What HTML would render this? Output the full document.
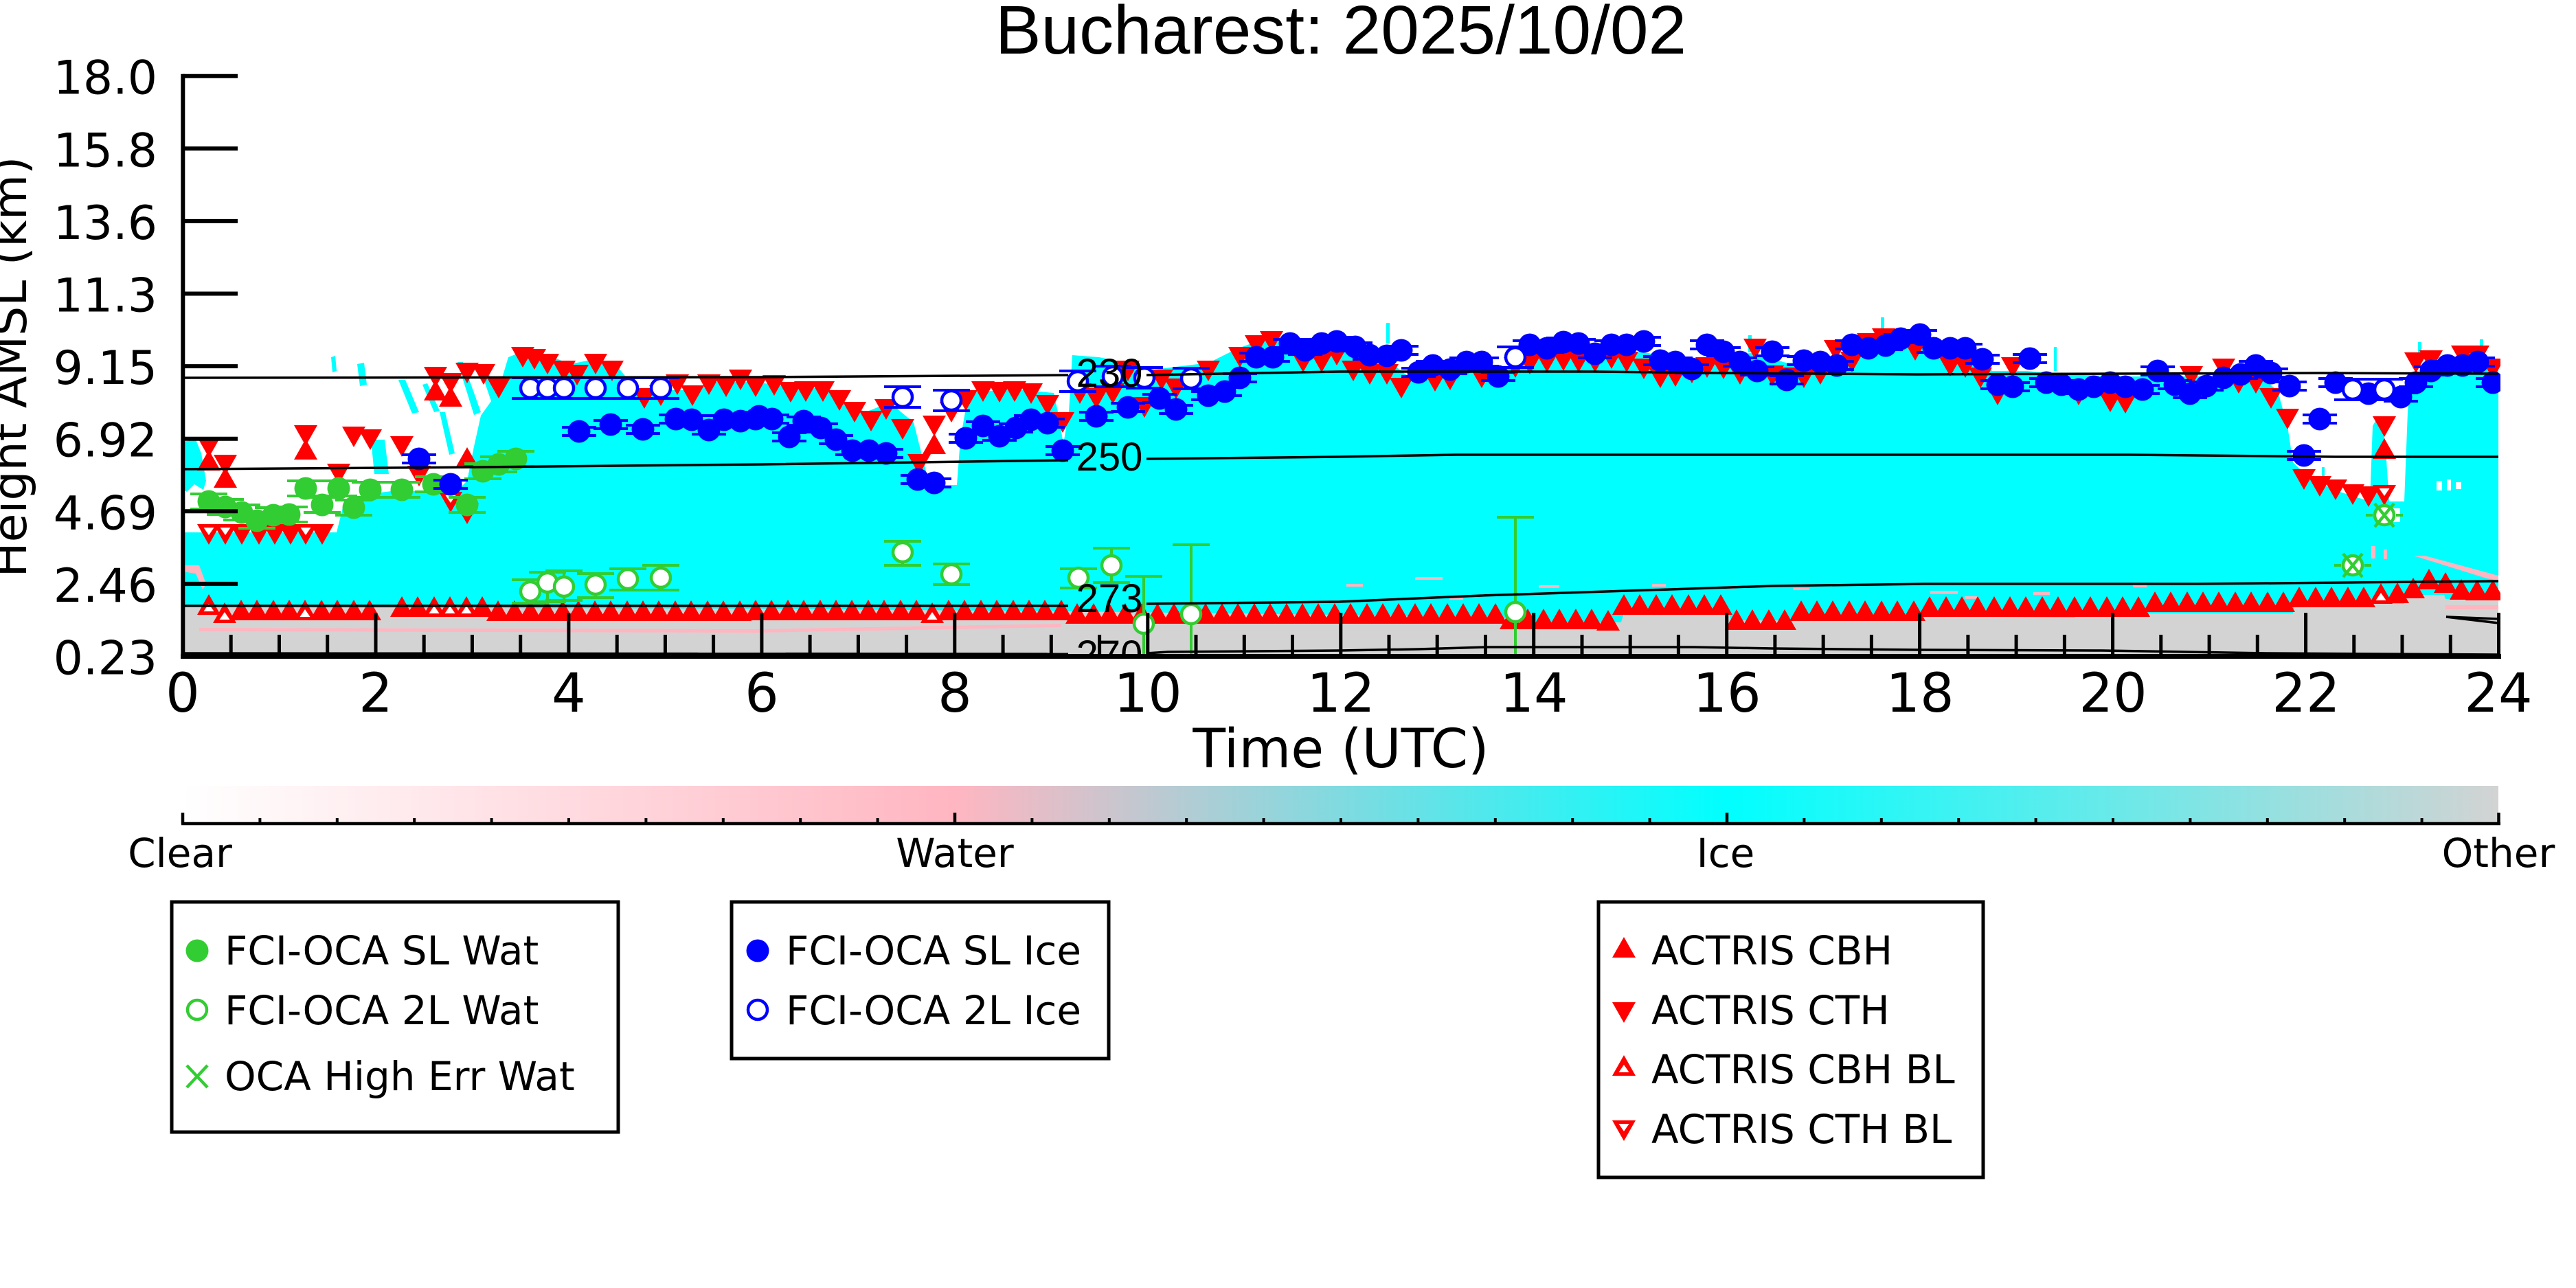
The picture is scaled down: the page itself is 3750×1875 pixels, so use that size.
<!DOCTYPE html>
<html><head><meta charset="utf-8"><style>
html,body{margin:0;padding:0;background:#fff;overflow:hidden}
svg{display:block}
.dj{font-family:"DejaVu Sans","Liberation Sans",sans-serif}
.lb{font-family:"Liberation Sans",Arial,sans-serif}
</style></head><body>
<svg xmlns="http://www.w3.org/2000/svg" width="3750" height="1875" viewBox="0 0 3750 1875">
<defs>
<clipPath id="pc"><rect x="266" y="100" width="3374" height="855"/></clipPath>
<linearGradient id="cb" x1="266" y1="0" x2="3637" y2="0" gradientUnits="userSpaceOnUse">
<stop offset="0" stop-color="#ffffff"/><stop offset="0.3333" stop-color="#ffb6c1"/><stop offset="0.6667" stop-color="#00ffff"/><stop offset="1" stop-color="#d3d3d3"/>
</linearGradient>
<polygon id="tu" points="0,-15 17,15 -17,15" fill="#f00"/>
<polygon id="td" points="0,15 17,-15 -17,-15" fill="#f00"/>
<g id="tuo"><polygon points="0,-15 17,15 -17,15" fill="#f00"/><polygon points="0,-1 7.5,10 -7.5,10" fill="#fff"/></g>
<g id="tdo"><polygon points="0,15 17,-15 -17,-15" fill="#f00"/><polygon points="0,1 7.5,-10 -7.5,-10" fill="#fff"/></g>
<g id="bf"><path d="M-25,-6h50M-25,6h50" stroke="#00f" stroke-width="4"/><circle r="16.5" fill="#00f"/></g>
<g id="gf"><path d="M-27,-11h54M-27,11h54M0,-11V11" stroke="#32cd32" stroke-width="4"/><circle r="16.5" fill="#32cd32"/></g>
<path id="boc" d="M-27,-15h54M-27,15h54M0,-15V15" stroke="#00f" stroke-width="4"/>
<circle id="bo" r="14" fill="#fff" stroke="#00f" stroke-width="4.5"/>
<circle id="go" r="14" fill="#fff" stroke="#32cd32" stroke-width="4.5"/>
<g id="gx"><path d="M-27,0h10M17,0h10" stroke="#32cd32" stroke-width="4"/><circle r="14" fill="#fff" stroke="#32cd32" stroke-width="4.5"/><path d="M-14,-17L14,17M14,-17L-14,17" stroke="#32cd32" stroke-width="4.5"/></g>
</defs>

<rect width="3750" height="1875" fill="#fff"/>

<!-- Title -->
<text class="lb" x="1952" y="78" font-size="100" text-anchor="middle" fill="#000">Bucharest: 2025/10/02</text>

<g clip-path="url(#pc)">
<!-- cyan main -->
<path fill="#00ffff" d="M266,775 L490,775 L500,735 L530,720 L570,715 L610,715 L650,715 L668,712 L680,700 L690,650 L700,605 L725,570 L740,520 L760,512 L800,518 L830,530 L870,522 L900,535 L930,572 L960,568 L1000,568 L1040,556 L1100,556 L1140,562 L1200,566 L1230,585 L1260,600 L1290,588 L1306,595 L1330,615 L1349,690 L1360,706 L1393,706 L1398,640 L1405,600 L1414,572 L1470,566 L1534,572 L1540,600 L1548,646 L1556,600 L1561,517 L1600,520 L1640,528 L1680,538 L1720,533 L1760,528 L1800,508 L1830,497 L1870,495 L1950,488 L2000,508 L2040,540 L2060,556 L2085,545 L2150,540 L2200,532 L2250,515 L2300,508 L2350,510 L2400,514 L2450,528 L2500,518 L2550,514 L2600,528 L2650,528 L2700,508 L2750,497 L2790,488 L2830,503 L2880,520 L2900,540 L2950,540 L3000,545 L3100,548 L3200,548 L3300,555 L3316,570 L3330,620 L3338,673 L3360,695 L3400,714 L3450,730 L3454,620 L3462,606 L3472,640 L3478,730 L3500,730 L3505,600 L3510,545 L3550,535 L3600,528 L3637,530 L3637,960 L266,960 Z"/>
<path fill="#00ffff" d="M266,643 L285,640 L293,660 L300,700 L296,713 L283,705 L272,716 L266,712 Z"/>
<g fill="#00ffff">
<path d="M482,520 L488,518 L490,540 L484,542 Z"/>
<path d="M520,530 L530,528 L534,560 L524,562 Z"/>
<path d="M580,553 L590,553 L610,600 L600,602 Z"/>
<path d="M615,560 L622,558 L640,598 L632,600 Z"/>
<path d="M640,600 L648,600 L662,660 L654,662 Z"/>
<path d="M666,527 L674,527 L700,600 L690,604 Z"/>
<path d="M700,540 L710,540 L742,626 L730,628 Z"/>
<path d="M540,640 L560,640 L566,690 L545,690 Z"/>
<rect x="2018" y="470" width="5" height="30"/>
<rect x="2545" y="488" width="5" height="25"/>
<rect x="2738" y="462" width="5" height="30"/>
<rect x="2990" y="505" width="4" height="35"/>
<rect x="3520" y="498" width="5" height="30"/>
<rect x="3610" y="494" width="5" height="30"/>
<rect x="3380" y="680" width="4" height="40"/>
</g>
<!-- white speckles -->
<g fill="#fff">
<rect x="3547" y="700" width="8" height="14"/>
<rect x="3562" y="698" width="6" height="16"/>
<rect x="3575" y="702" width="8" height="10"/>
<rect x="3484" y="740" width="10" height="20"/>
</g>
<!-- pink -->
<g fill="#ffb6c1">
<path d="M266,823 L290,823 L300,850 L295,858 L285,835 L266,832 Z"/>
<rect x="1960" y="850" width="24" height="4"/>
<rect x="2060" y="840" width="40" height="4"/>
<rect x="2110" y="870" width="20" height="3"/>
<rect x="2240" y="852" width="30" height="4"/>
<rect x="2405" y="850" width="20" height="4"/>
<rect x="2505" y="854" width="20" height="3"/>
<rect x="2610" y="856" width="24" height="3"/>
<rect x="2810" y="860" width="40" height="5"/>
<rect x="2860" y="868" width="20" height="4"/>
<rect x="2960" y="862" width="24" height="4"/>
<rect x="3105" y="852" width="20" height="3"/>
<rect x="3452" y="795" width="6" height="18"/>
<rect x="3470" y="800" width="5" height="14"/>
<path d="M3514,809 L3530,809 L3637,838 L3637,845 L3620,842 Z"/>
</g>
<!-- gray -->
<path fill="#d3d3d3" d="M266,884 L1100,886 L1560,890 L1940,895 L2200,900 L2205,906 L2360,906 L2365,888 L2515,888 L2520,903 L2618,903 L2622,895 L2790,897 L3020,899 L3025,893 L3338,893 L3340,879 L3500,879 L3503,866 L3558,866 L3560,872 L3637,872 L3637,960 L266,960 Z"/>
<path fill="#ffb6c1" d="M290,914 L1100,916 L1545,908 L1545,913 L1100,921 L290,919 Z"/>
<rect x="3560" y="881" width="77" height="6" fill="#ffb6c1"/>

<!-- ACTRIS CBH -->
<use href="#tuo" x="304" y="880"/><use href="#tuo" x="327" y="892"/><use href="#tu" x="351" y="888"/><use href="#tu" x="374" y="888"/><use href="#tu" x="398" y="888"/><use href="#tu" x="421" y="888"/><use href="#tuo" x="444" y="888"/><use href="#tu" x="468" y="888"/><use href="#tu" x="491" y="888"/><use href="#tu" x="515" y="888"/><use href="#tu" x="538" y="888"/>
<use href="#tu" x="585" y="883"/><use href="#tu" x="608" y="883"/><use href="#tuo" x="632" y="883"/><use href="#tuo" x="655" y="883"/><use href="#tuo" x="679" y="883"/><use href="#tu" x="702" y="883"/>
<use href="#tu" x="725" y="889"/><use href="#tu" x="749" y="889"/><use href="#tu" x="772" y="889"/><use href="#tu" x="796" y="889"/><use href="#tu" x="819" y="889"/><use href="#tu" x="842" y="889"/><use href="#tu" x="866" y="889"/><use href="#tu" x="889" y="889"/><use href="#tu" x="913" y="889"/><use href="#tu" x="936" y="889"/><use href="#tu" x="959" y="889"/><use href="#tu" x="983" y="889"/><use href="#tu" x="1006" y="889"/><use href="#tu" x="1030" y="889"/><use href="#tu" x="1053" y="889"/><use href="#tu" x="1077" y="889"/>
<use href="#tu" x="1100" y="888"/><use href="#tu" x="1123" y="888"/><use href="#tu" x="1147" y="888"/><use href="#tu" x="1170" y="888"/><use href="#tu" x="1194" y="888"/><use href="#tu" x="1217" y="888"/><use href="#tu" x="1240" y="888"/><use href="#tu" x="1264" y="888"/><use href="#tu" x="1287" y="888"/><use href="#tu" x="1311" y="888"/><use href="#tu" x="1334" y="888"/><use href="#tuo" x="1357" y="892"/><use href="#tu" x="1381" y="888"/><use href="#tu" x="1404" y="888"/><use href="#tu" x="1428" y="888"/><use href="#tu" x="1451" y="888"/><use href="#tu" x="1475" y="888"/><use href="#tu" x="1498" y="888"/><use href="#tu" x="1521" y="888"/><use href="#tu" x="1545" y="888"/>
<use href="#tu" x="1568" y="893"/><use href="#tu" x="1592" y="893"/><use href="#tu" x="1615" y="893"/><use href="#tu" x="1638" y="893"/><use href="#tu" x="1662" y="893"/><use href="#tu" x="1685" y="893"/><use href="#tu" x="1709" y="893"/><use href="#tu" x="1732" y="893"/><use href="#tu" x="1755" y="893"/><use href="#tu" x="1779" y="893"/><use href="#tu" x="1802" y="893"/><use href="#tu" x="1826" y="893"/><use href="#tu" x="1849" y="893"/><use href="#tu" x="1873" y="893"/><use href="#tu" x="1896" y="893"/><use href="#tu" x="1919" y="893"/><use href="#tu" x="1943" y="893"/><use href="#tu" x="1966" y="893"/><use href="#tu" x="1990" y="893"/><use href="#tu" x="2013" y="893"/><use href="#tu" x="2036" y="893"/><use href="#tu" x="2060" y="893"/><use href="#tu" x="2083" y="893"/><use href="#tu" x="2107" y="893"/><use href="#tu" x="2130" y="893"/><use href="#tu" x="2153" y="893"/><use href="#tu" x="2177" y="893"/>
<use href="#tu" x="2200" y="901"/><use href="#tu" x="2224" y="901"/><use href="#tu" x="2247" y="901"/><use href="#tu" x="2270" y="901"/><use href="#tu" x="2294" y="901"/><use href="#tu" x="2317" y="901"/><use href="#tu" x="2341" y="903"/>
<use href="#tu" x="2364" y="880"/><use href="#tu" x="2387" y="880"/><use href="#tu" x="2411" y="880"/><use href="#tu" x="2434" y="880"/><use href="#tu" x="2458" y="880"/><use href="#tu" x="2481" y="880"/><use href="#tu" x="2505" y="880"/>
<use href="#tu" x="2528" y="902"/><use href="#tu" x="2551" y="902"/><use href="#tu" x="2575" y="902"/><use href="#tu" x="2598" y="902"/>
<use href="#tu" x="2622" y="889"/><use href="#tu" x="2645" y="889"/><use href="#tu" x="2668" y="889"/><use href="#tu" x="2692" y="889"/><use href="#tu" x="2715" y="889"/><use href="#tu" x="2739" y="889"/><use href="#tu" x="2762" y="889"/><use href="#tu" x="2786" y="889"/>
<use href="#tu" x="2809" y="883"/><use href="#tu" x="2833" y="883"/><use href="#tu" x="2856" y="883"/><use href="#tu" x="2879" y="883"/><use href="#tu" x="2903" y="883"/><use href="#tu" x="2926" y="883"/><use href="#tu" x="2949" y="883"/><use href="#tu" x="2973" y="883"/><use href="#tu" x="2996" y="883"/><use href="#tu" x="3020" y="883"/><use href="#tu" x="3043" y="883"/><use href="#tu" x="3067" y="883"/><use href="#tu" x="3090" y="883"/><use href="#tu" x="3113" y="883"/>
<use href="#tu" x="3137" y="876"/><use href="#tu" x="3160" y="876"/><use href="#tu" x="3184" y="876"/><use href="#tu" x="3207" y="876"/><use href="#tu" x="3230" y="876"/><use href="#tu" x="3254" y="876"/><use href="#tu" x="3277" y="876"/><use href="#tu" x="3301" y="876"/><use href="#tu" x="3324" y="876"/>
<use href="#tu" x="3347" y="869"/><use href="#tu" x="3371" y="869"/><use href="#tu" x="3394" y="869"/><use href="#tu" x="3418" y="869"/><use href="#tu" x="3441" y="869"/><use href="#tuo" x="3466" y="864"/><use href="#tu" x="3490" y="863"/><use href="#tu" x="3513" y="856"/><use href="#tu" x="3536" y="843"/><use href="#tu" x="3560" y="848"/><use href="#tu" x="3583" y="858"/><use href="#tu" x="3606" y="859"/><use href="#tu" x="3629" y="859"/>
<!-- elevated CBH -->
<use href="#tu" x="304" y="670"/><use href="#tu" x="328" y="695"/><use href="#tu" x="445" y="654"/><use href="#tu" x="634" y="568"/><use href="#tu" x="656" y="577"/><use href="#tu" x="680" y="666"/><use href="#tu" x="1360" y="646"/><use href="#tu" x="3471" y="653"/>

<!-- ACTRIS CTH -->
<use href="#td" x="304" y="651"/><use href="#td" x="328" y="677"/><use href="#td" x="445" y="634"/><use href="#td" x="515" y="636"/><use href="#td" x="539" y="640"/><use href="#td" x="585" y="650"/><use href="#td" x="493" y="690"/><use href="#td" x="610" y="693"/><use href="#td" x="680" y="748"/>
<use href="#td" x="634" y="549"/><use href="#td" x="656" y="558"/><use href="#td" x="680" y="543"/><use href="#td" x="704" y="545"/><use href="#td" x="726" y="565"/>
<use href="#td" x="761" y="520"/><use href="#td" x="778" y="523"/><use href="#td" x="797" y="530"/><use href="#td" x="821" y="540"/><use href="#td" x="840" y="546"/><use href="#td" x="867" y="530"/><use href="#td" x="891" y="540"/><use href="#td" x="938" y="580"/><use href="#td" x="962" y="576"/><use href="#td" x="986" y="560"/><use href="#td" x="1008" y="576"/><use href="#td" x="1032" y="560"/><use href="#td" x="1057" y="563"/><use href="#td" x="1078" y="553"/><use href="#td" x="1100" y="563"/>
<use href="#td" x="352" y="778"/><use href="#td" x="377" y="778"/><use href="#td" x="400" y="778"/><use href="#td" x="423" y="778"/><use href="#td" x="469" y="778"/>
<use href="#tdo" x="304" y="778"/><use href="#tdo" x="328" y="778"/><use href="#tdo" x="445" y="778"/><use href="#tdo" x="656" y="731"/>
<use href="#td" x="1127" y="561"/><use href="#td" x="1151" y="571"/><use href="#td" x="1173" y="570"/><use href="#td" x="1198" y="570"/><use href="#td" x="1222" y="583"/><use href="#td" x="1244" y="600"/><use href="#td" x="1268" y="613"/><use href="#td" x="1290" y="596"/><use href="#td" x="1314" y="625"/><use href="#td" x="1338" y="676"/><use href="#td" x="1360" y="620"/><use href="#td" x="1385" y="600"/><use href="#td" x="1406" y="583"/><use href="#td" x="1431" y="570"/><use href="#td" x="1455" y="571"/><use href="#td" x="1477" y="570"/><use href="#td" x="1501" y="573"/><use href="#td" x="1525" y="590"/><use href="#td" x="1547" y="615"/><use href="#td" x="1572" y="573"/><use href="#td" x="1596" y="580"/><use href="#td" x="1620" y="573"/><use href="#td" x="1642" y="540"/><use href="#td" x="1666" y="593"/><use href="#td" x="1691" y="553"/><use href="#td" x="1712" y="566"/><use href="#td" x="1759" y="540"/><use href="#td" x="1805" y="520"/><use href="#td" x="1829" y="503"/><use href="#td" x="1851" y="497"/><use href="#td" x="1897" y="527"/><use href="#td" x="1924" y="527"/><use href="#td" x="1946" y="517"/>
<use href="#td" x="1970" y="540"/><use href="#td" x="1994" y="545"/><use href="#td" x="2019" y="545"/><use href="#td" x="2040" y="565"/><use href="#td" x="2089" y="555"/><use href="#td" x="2111" y="553"/><use href="#td" x="2157" y="550"/><use href="#td" x="2206" y="535"/><use href="#td" x="2227" y="530"/><use href="#td" x="2252" y="527"/><use href="#td" x="2276" y="525"/><use href="#td" x="2298" y="527"/><use href="#td" x="2322" y="527"/><use href="#td" x="2346" y="522"/><use href="#td" x="2368" y="527"/><use href="#td" x="2393" y="537"/><use href="#td" x="2417" y="550"/><use href="#td" x="2439" y="548"/><use href="#td" x="2463" y="543"/><use href="#td" x="2485" y="535"/><use href="#td" x="2509" y="537"/><use href="#td" x="2533" y="545"/><use href="#td" x="2555" y="508"/><use href="#td" x="2580" y="547"/><use href="#td" x="2604" y="550"/><use href="#td" x="2626" y="550"/><use href="#td" x="2650" y="545"/><use href="#td" x="2672" y="510"/><use href="#td" x="2696" y="527"/><use href="#td" x="2720" y="500"/><use href="#td" x="2742" y="493"/><use href="#td" x="2767" y="497"/><use href="#td" x="2788" y="510"/>
<use href="#td" x="2839" y="533"/><use href="#td" x="2861" y="535"/><use href="#td" x="2883" y="550"/><use href="#td" x="2908" y="575"/><use href="#td" x="2930" y="535"/><use href="#td" x="3026" y="575"/><use href="#td" x="3072" y="585"/><use href="#td" x="3094" y="587"/><use href="#td" x="3190" y="548"/><use href="#td" x="3237" y="537"/><use href="#td" x="3259" y="558"/><use href="#td" x="3284" y="558"/><use href="#td" x="3306" y="580"/><use href="#td" x="3330" y="610"/><use href="#td" x="3354" y="698"/><use href="#td" x="3377" y="708"/><use href="#td" x="3400" y="713"/><use href="#td" x="3425" y="720"/><use href="#td" x="3448" y="723"/><use href="#td" x="3471" y="621"/><use href="#td" x="3517" y="528"/><use href="#td" x="3539" y="525"/><use href="#td" x="3585" y="518"/><use href="#td" x="3607" y="518"/><use href="#td" x="3629" y="537"/>
<use href="#tdo" x="3471" y="721"/>

<!-- FCI-OCA SL Wat -->
<use href="#gf" x="304" y="730"/><use href="#gf" x="328" y="738"/><use href="#gf" x="352" y="746"/><use href="#gf" x="374" y="758"/><use href="#gf" x="398" y="750"/><use href="#gf" x="421" y="749"/><use href="#gf" x="445" y="711"/><use href="#gf" x="469" y="735"/><use href="#gf" x="493" y="711"/><use href="#gf" x="515" y="739"/><use href="#gf" x="539" y="713"/><use href="#gf" x="585" y="713"/><use href="#gf" x="631" y="705"/><use href="#gf" x="680" y="735"/><use href="#gf" x="703" y="686"/><use href="#gf" x="726" y="676"/><use href="#gf" x="751" y="668"/>

<!-- FCI-OCA 2L Wat error bars -->
<path fill="none" stroke="#32cd32" stroke-width="4" d="M745,844h54M745,878h54M772,844V878 M770,833h54M770,876h54M797,833V876 M794,831h54M794,874h54M821,831V874 M840,835h54M840,870h54M867,835V870 M887,828h54M887,859h54M914,828V859 M935,823h54M935,859h54M962,823V859 M1287,788h54M1287,823h54M1314,788V823 M1358,821h54M1358,851h54M1385,821V851 M1543,828h54M1543,856h54M1570,828V856 M1591,798h54M1591,848h54M1618,798V848 M1638,839h54M1665,839V965 M1707,793h54M1734,793V965 M2179,753h54M2206,753V965"/>
<use href="#go" x="772" y="861"/><use href="#go" x="797" y="848"/><use href="#go" x="821" y="854"/><use href="#go" x="867" y="851"/><use href="#go" x="914" y="843"/><use href="#go" x="962" y="841"/><use href="#go" x="1314" y="804"/><use href="#go" x="1385" y="836"/><use href="#go" x="1570" y="841"/><use href="#go" x="1618" y="823"/><use href="#go" x="1665" y="908"/><use href="#go" x="1734" y="894"/><use href="#go" x="2206" y="891"/>

<!-- FCI-OCA SL Ice -->
<use href="#bf" x="610" y="668"/><use href="#bf" x="656" y="705"/><use href="#bf" x="843" y="628"/><use href="#bf" x="889" y="618"/><use href="#bf" x="936" y="625"/><use href="#bf" x="984" y="610"/><use href="#bf" x="1007" y="611"/><use href="#bf" x="1032" y="626"/><use href="#bf" x="1054" y="611"/><use href="#bf" x="1078" y="613"/><use href="#bf" x="1100" y="610"/>
<use href="#bf" x="1105" y="606"/><use href="#bf" x="1124" y="610"/><use href="#bf" x="1149" y="636"/><use href="#bf" x="1170" y="613"/><use href="#bf" x="1195" y="623"/><use href="#bf" x="1217" y="640"/><use href="#bf" x="1241" y="656"/><use href="#bf" x="1265" y="656"/><use href="#bf" x="1290" y="660"/><use href="#bf" x="1336" y="698"/><use href="#bf" x="1360" y="703"/><use href="#bf" x="1406" y="638"/><use href="#bf" x="1431" y="620"/><use href="#bf" x="1455" y="635"/><use href="#bf" x="1479" y="623"/><use href="#bf" x="1501" y="611"/><use href="#bf" x="1525" y="616"/><use href="#bf" x="1547" y="656"/><use href="#bf" x="1596" y="606"/><use href="#bf" x="1642" y="593"/><use href="#bf" x="1688" y="580"/><use href="#bf" x="1712" y="596"/><use href="#bf" x="1759" y="576"/><use href="#bf" x="1783" y="570"/><use href="#bf" x="1805" y="550"/><use href="#bf" x="1829" y="520"/><use href="#bf" x="1853" y="520"/><use href="#bf" x="1878" y="500"/><use href="#bf" x="1900" y="510"/><use href="#bf" x="1924" y="500"/><use href="#bf" x="1946" y="497"/>
<use href="#bf" x="1973" y="505"/><use href="#bf" x="1994" y="517"/><use href="#bf" x="2019" y="518"/><use href="#bf" x="2040" y="510"/><use href="#bf" x="2065" y="542"/><use href="#bf" x="2086" y="532"/><use href="#bf" x="2111" y="538"/><use href="#bf" x="2135" y="527"/><use href="#bf" x="2157" y="527"/><use href="#bf" x="2181" y="548"/><use href="#bf" x="2227" y="502"/><use href="#bf" x="2252" y="507"/><use href="#bf" x="2276" y="498"/><use href="#bf" x="2298" y="500"/><use href="#bf" x="2322" y="515"/><use href="#bf" x="2346" y="502"/><use href="#bf" x="2368" y="502"/><use href="#bf" x="2393" y="497"/><use href="#bf" x="2417" y="525"/><use href="#bf" x="2439" y="527"/><use href="#bf" x="2463" y="537"/><use href="#bf" x="2485" y="502"/><use href="#bf" x="2509" y="512"/><use href="#bf" x="2533" y="527"/><use href="#bf" x="2558" y="540"/><use href="#bf" x="2580" y="512"/><use href="#bf" x="2601" y="553"/><use href="#bf" x="2626" y="525"/><use href="#bf" x="2650" y="527"/><use href="#bf" x="2674" y="532"/><use href="#bf" x="2696" y="502"/><use href="#bf" x="2720" y="507"/><use href="#bf" x="2745" y="503"/><use href="#bf" x="2767" y="493"/>
<use href="#bf" x="2795" y="487"/><use href="#bf" x="2815" y="507"/><use href="#bf" x="2839" y="507"/><use href="#bf" x="2861" y="507"/><use href="#bf" x="2886" y="523"/><use href="#bf" x="2908" y="560"/><use href="#bf" x="2930" y="563"/><use href="#bf" x="2955" y="522"/><use href="#bf" x="2979" y="557"/><use href="#bf" x="3001" y="560"/><use href="#bf" x="3026" y="567"/><use href="#bf" x="3048" y="563"/><use href="#bf" x="3072" y="557"/><use href="#bf" x="3094" y="563"/><use href="#bf" x="3119" y="567"/><use href="#bf" x="3141" y="540"/><use href="#bf" x="3166" y="560"/><use href="#bf" x="3188" y="573"/><use href="#bf" x="3212" y="562"/><use href="#bf" x="3237" y="550"/><use href="#bf" x="3262" y="545"/><use href="#bf" x="3284" y="532"/><use href="#bf" x="3306" y="543"/><use href="#bf" x="3333" y="562"/><use href="#bf" x="3354" y="663"/><use href="#bf" x="3377" y="610"/><use href="#bf" x="3400" y="557"/><use href="#bf" x="3448" y="573"/><use href="#bf" x="3495" y="578"/><use href="#bf" x="3517" y="557"/><use href="#bf" x="3539" y="540"/><use href="#bf" x="3563" y="532"/><use href="#bf" x="3585" y="532"/><use href="#bf" x="3607" y="527"/><use href="#bf" x="3629" y="557"/>

<!-- FCI-OCA 2L Ice -->
<use href="#boc" x="772" y="565"/><use href="#boc" x="797" y="565"/><use href="#boc" x="821" y="565"/><use href="#boc" x="867" y="565"/><use href="#boc" x="914" y="565"/><use href="#boc" x="962" y="565"/><use href="#boc" x="1314" y="578"/><use href="#boc" x="1385" y="583"/><use href="#boc" x="1569" y="555"/><use href="#boc" x="1620" y="548"/><use href="#boc" x="1666" y="550"/><use href="#boc" x="1734" y="551"/><use href="#boc" x="2206" y="520"/><use href="#boc" x="3425" y="567"/><use href="#boc" x="3471" y="567"/>
<use href="#bo" x="772" y="565"/><use href="#bo" x="797" y="565"/><use href="#bo" x="821" y="565"/><use href="#bo" x="867" y="565"/><use href="#bo" x="914" y="565"/><use href="#bo" x="962" y="565"/><use href="#bo" x="1314" y="578"/><use href="#bo" x="1385" y="583"/><use href="#bo" x="1569" y="555"/><use href="#bo" x="1620" y="548"/><use href="#bo" x="1666" y="550"/><use href="#bo" x="1734" y="551"/><use href="#bo" x="2206" y="520"/><use href="#bo" x="3425" y="567"/><use href="#bo" x="3471" y="567"/>

<!-- OCA high error water -->
<use href="#gx" x="3425" y="823"/><use href="#gx" x="3471" y="750"/>

<!-- temperature contours -->
<g fill="none" stroke="#000" stroke-width="3.5">
<path d="M266,550 L1110,549 L1555,546"/>
<path d="M1669,546 L1950,541 L2320,541 L2500,543 L2790,545 L3377,543 L3637,544"/>
<path d="M266,683 L700,680 L1110,676 L1555,670"/>
<path d="M1669,668 L1950,665 L2120,662 L2790,662 L3100,662 L3400,665 L3637,665"/>
<path d="M266,882 L1555,882"/>
<path d="M1669,879 L1950,876 L2157,867 L2400,859 L2580,853 L2800,850 L3200,850 L3637,846"/>
<path d="M266,951 L1555,952"/>
<path d="M1669,951 L1700,949 L1950,947 L2065,945 L2163,942 L2466,942 L2580,944 L2790,946 L3060,947 L3300,951 L3637,953"/>
<path d="M3637,901 L3561,898 L3637,907"/>
</g>
<g class="lb" font-size="58" text-anchor="middle" fill="#000">
<text x="1615" y="563">230</text>
<text x="1615" y="685">250</text>
<text x="1615" y="891">273</text>
<text x="1615" y="973">270</text>
</g>
</g>

<!-- x ticks -->
<path fill="none" stroke="#000" stroke-width="5" d="M336.2,924V956M406.5,924V956M476.7,924V956M617.2,924V956M687.4,924V956M757.7,924V956M898.2,924V956M968.4,924V956M1038.6,924V956M1179.1,924V956M1249.4,924V956M1319.6,924V956M1460.1,924V956M1530.3,924V956M1600.6,924V956M1741,924V956M1811.3,924V956M1881.5,924V956M2022,924V956M2092.2,924V956M2162.5,924V956M2303,924V956M2373.2,924V956M2443.4,924V956M2583.9,924V956M2654.2,924V956M2724.4,924V956M2864.9,924V956M2935.1,924V956M3005.4,924V956M3145.8,924V956M3216.1,924V956M3286.3,924V956M3426.8,924V956M3497,924V956M3567.3,924V956"/>
<path fill="none" stroke="#000" stroke-width="5" d="M547,892V956M827.9,892V956M1108.9,892V956M1389.8,892V956M1670.8,892V956M1951.8,892V956M2232.7,892V956M2513.7,892V956M2794.6,892V956M3075.6,892V956M3356.6,892V956M3637.5,892V956"/>
<!-- y ticks -->
<path fill="none" stroke="#000" stroke-width="6" d="M266,110.7H346M266,216.3H346M266,321.9H346M266,427.5H346M266,533.1H346M266,638.7H346M266,744.3H346M266,849.9H346"/>
<!-- axes -->
<path fill="none" stroke="#000" stroke-width="7" d="M263,955.5H3641"/>
<path fill="none" stroke="#000" stroke-width="6" d="M266.3,107.7V959"/>

<!-- y tick labels -->
<g class="dj" font-size="68" text-anchor="end" fill="#000">
<text x="229" y="136.7">18.0</text>
<text x="229" y="242.3">15.8</text>
<text x="229" y="347.9">13.6</text>
<text x="229" y="453.5">11.3</text>
<text x="229" y="559.1">9.15</text>
<text x="229" y="664.7">6.92</text>
<text x="229" y="770.3">4.69</text>
<text x="229" y="875.9">2.46</text>
<text x="229" y="981.5">0.23</text>
</g>
<text class="dj" font-size="68" text-anchor="middle" fill="#000" transform="translate(38,534) rotate(-90)">Height AMSL (km)</text>

<!-- x tick labels -->
<g class="dj" font-size="78" text-anchor="middle" fill="#000">
<text x="266" y="1036">0</text>
<text x="547" y="1036">2</text>
<text x="828" y="1036">4</text>
<text x="1109" y="1036">6</text>
<text x="1390" y="1036">8</text>
<text x="1671" y="1036">10</text>
<text x="1952" y="1036">12</text>
<text x="2233" y="1036">14</text>
<text x="2514" y="1036">16</text>
<text x="2795" y="1036">18</text>
<text x="3076" y="1036">20</text>
<text x="3357" y="1036">22</text>
<text x="3637" y="1036">24</text>
</g>
<text class="dj" x="1952" y="1117" font-size="78" text-anchor="middle" fill="#000">Time (UTC)</text>

<!-- colorbar -->
<rect x="266" y="1144" width="3371" height="54" fill="url(#cb)"/>
<path fill="none" stroke="#000" stroke-width="4.5" d="M264,1199H3640"/>
<path fill="none" stroke="#000" stroke-width="4" d="M378.4,1191V1199M490.8,1191V1199M603.2,1191V1199M715.6,1191V1199M828,1191V1199M940.4,1191V1199M1052.8,1191V1199M1165.2,1191V1199M1277.6,1191V1199M1502.4,1191V1199M1614.8,1191V1199M1727.2,1191V1199M1839.6,1191V1199M1952,1191V1199M2064.4,1191V1199M2176.8,1191V1199M2289.2,1191V1199M2401.6,1191V1199M2626.4,1191V1199M2738.8,1191V1199M2851.2,1191V1199M2963.6,1191V1199M3076,1191V1199M3188.4,1191V1199M3300.8,1191V1199M3413.2,1191V1199M3525.6,1191V1199"/>
<path fill="none" stroke="#000" stroke-width="4.5" d="M266,1183V1199M1390,1183V1199M2514,1183V1199M3637.5,1183V1199"/>
<g class="dj" font-size="58" text-anchor="middle" fill="#000">
<text x="262" y="1262">Clear</text>
<text x="1390" y="1262">Water</text>
<text x="2512" y="1262">Ice</text>
<text x="3637" y="1262">Other</text>
</g>

<!-- legends -->
<g fill="none" stroke="#000" stroke-width="5">
<rect x="250" y="1313" width="650" height="335"/>
<rect x="1065" y="1313" width="549" height="228"/>
<rect x="2327" y="1313" width="560" height="401"/>
</g>
<circle cx="287" cy="1384" r="16.5" fill="#32cd32"/>
<circle cx="287" cy="1470" r="14" fill="#fff" stroke="#32cd32" stroke-width="4.5"/>
<path d="M272,1551L302,1583M302,1551L272,1583" stroke="#32cd32" stroke-width="4.5"/>
<g class="dj" font-size="58" fill="#000">
<text x="327" y="1404">FCI-OCA SL Wat</text>
<text x="327" y="1491">FCI-OCA 2L Wat</text>
<text x="327" y="1587">OCA High Err Wat</text>
</g>
<circle cx="1103" cy="1384" r="16.5" fill="#00f"/>
<circle cx="1103" cy="1470" r="14" fill="#fff" stroke="#00f" stroke-width="4.5"/>
<g class="dj" font-size="58" fill="#000">
<text x="1144" y="1404">FCI-OCA SL Ice</text>
<text x="1144" y="1491">FCI-OCA 2L Ice</text>
</g>
<use href="#tu" x="2364" y="1379"/>
<use href="#td" x="2364" y="1474"/>
<use href="#tuo" x="2364" y="1551"/>
<use href="#tdo" x="2364" y="1646"/>
<g class="dj" font-size="58" fill="#000">
<text x="2404" y="1404">ACTRIS CBH</text>
<text x="2404" y="1491">ACTRIS CTH</text>
<text x="2404" y="1577">ACTRIS CBH BL</text>
<text x="2404" y="1664">ACTRIS CTH BL</text>
</g>
</svg>
</body></html>
